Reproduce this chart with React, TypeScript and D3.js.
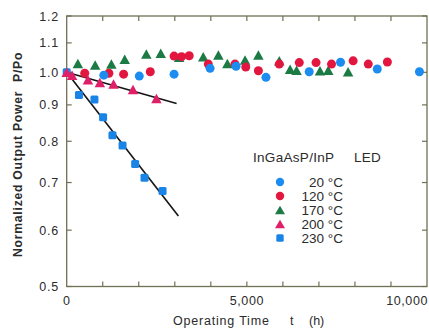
import React from "react";
import * as d3 from "d3";

// ---- data ----
const xTickValues = [0, 5000, 10000];
const xTickLabels = ["0", "5,000", "10,000"];
const xMinorTicks = [1000, 2000, 3000, 4000, 5000, 6000, 7000, 8000, 9000];
const yTickValues = [0.5, 0.6, 0.7, 0.8, 0.9, 1.0, 1.1, 1.2];
const yTickLabels = ["0.5", "0.6", "0.7", "0.8", "0.9", "1.0", "1.1", "1.2"];

const legendLabels = ["20 °C", "120 °C", "170 °C", "200 °C", "230 °C"];

const hours20 = [1030, 2015, 2980, 3980, 4700, 5530, 6730, 7600, 8620, 9790];
const ratio20 = [0.991, 0.988, 0.994, 1.013, 1.02, 0.984, 1.002, 1.033, 1.011, 1.002];

const hours120 = [500, 1170, 1580, 2320, 2980, 3190, 3400, 3930, 4670, 4970, 5320, 5900, 6455, 6920, 7350, 7950, 8370, 8900];
const ratio120 = [0.997, 0.997, 0.994, 1.002, 1.054, 1.052, 1.055, 1.027, 1.027, 1.017, 1.005, 1.027, 1.032, 1.032, 1.027, 1.038, 1.027, 1.034];

const hours170 = [310, 790, 1240, 1610, 2210, 2610, 3120, 3790, 4210, 4460, 4950, 5320, 5900, 6200, 6380, 7030, 7260, 7810];
const ratio170 = [1.029, 1.024, 1.027, 1.043, 1.061, 1.064, 1.05, 1.052, 1.058, 1.029, 1.041, 1.058, 1.038, 1.01, 1.007, 1.005, 1.007, 1.002];

const hours200 = [0, 150, 590, 920, 1300, 1840, 2490];
const ratio200 = [1.0, 0.991, 0.976, 0.968, 0.963, 0.946, 0.919];

const hours230 = [0, 340, 770, 1010, 1270, 1550, 1900, 2160, 2660];
const ratio230 = [1.0, 0.929, 0.916, 0.865, 0.816, 0.789, 0.743, 0.711, 0.681];

const fit200Hours = [0, 3050];
const fit200Ratio = [1.0, 0.904];
const fit230Hours = [0, 3100];
const fit230Ratio = [1.0, 0.628];

// ---- styles ----
const C20 = "#1d8cf0";
const C120 = "#e3163f";
const C170 = "#1c7a45";
const C200 = "#df2068";
const C230 = "#1a84e6";
const AXIS = "#707055";
const TXT = "#2b2b2b";
const FONT = "'Liberation Sans', Arial, sans-serif";

const W = 429;
const H = 328;
const L = 66.7;
const R = 427;
const T = 16;
const B = 286.5;

const x = d3.scaleLinear().domain([0, 10000]).range([L, R]);
const y = d3.scaleLog().domain([0.5, 1.2]).range([B, T]);

const pts = (hs: number[], rs: number[]) => hs.map((h, i) => [h, rs[i]] as [number, number]);

const tri = (cx: number, cy: number, w = 10, h = 9) =>
  `M${cx},${cy - h / 2}L${cx + w / 2},${cy + h / 2}L${cx - w / 2},${cy + h / 2}Z`;

export default function App() {
  const line = d3
    .line<[number, number]>()
    .x((d) => x(d[0]))
    .y((d) => y(d[1]));

  const circles = (data: [number, number][], color: string, key: string) =>
    data.map((d, i) => <circle key={key + i} cx={x(d[0])} cy={y(d[1])} r={4.5} fill={color} />);
  const triangles = (data: [number, number][], color: string, key: string) =>
    data.map((d, i) => <path key={key + i} d={tri(x(d[0]), y(d[1]), 10.5, 9.5)} fill={color} />);
  const squares = (data: [number, number][], color: string, key: string) =>
    data.map((d, i) => (
      <rect key={key + i} x={x(d[0]) - 4} y={y(d[1]) - 4} width={8} height={8} rx={1.5} fill={color} />
    ));

  const legendX = 280;
  const legendY0 = 182;
  const legendDy = 14;

  return (
    <svg
      width={W}
      height={H}
      style={{ position: "absolute", left: 0, top: 0, background: "#fff" }}
      fontFamily={FONT}
    >
      <rect x={0} y={0} width={W} height={H} fill="#fff" />

      {/* frame */}
      <rect x={L} y={T} width={R - L} height={B - T} fill="none" stroke={AXIS} strokeWidth={1.3} />

      {/* y ticks left and right */}
      {yTickValues.map((v, i) => (
        <g key={"yt" + i}>
          <line x1={L} x2={L + 5} y1={y(v)} y2={y(v)} stroke={AXIS} strokeWidth={1.2} />
          <line x1={R} x2={R - 5} y1={y(v)} y2={y(v)} stroke={AXIS} strokeWidth={1.2} />
          <text
            x={59}
            y={y(v) + 4.5}
            textAnchor="end"
            fontSize={12.5}
            letterSpacing={0.8}
            fill={TXT}
          >
            {yTickLabels[i]}
          </text>
        </g>
      ))}

      {/* x minor ticks top and bottom */}
      {xMinorTicks.map((v, i) => (
        <g key={"xt" + i}>
          <line x1={x(v)} x2={x(v)} y1={B} y2={B - 5} stroke={AXIS} strokeWidth={1.2} />
          <line x1={x(v)} x2={x(v)} y1={T} y2={T + 5} stroke={AXIS} strokeWidth={1.2} />
        </g>
      ))}
      {xTickValues.map((v, i) => (
        <text
          key={"xl" + i}
          x={i === xTickValues.length - 1 ? x(v) + 1 : x(v)}
          y={305}
          textAnchor={i === 0 ? "middle" : i === xTickValues.length - 1 ? "end" : "middle"}
          fontSize={12.5}
          letterSpacing={0.6}
          fill={TXT}
        >
          {xTickLabels[i]}
        </text>
      ))}

      {/* axis titles */}
      <text x={173} y={325} fontSize={12.5} letterSpacing={0.8} fill={TXT}>
        Operating Time
      </text>
      <text x={290} y={325} fontSize={12.5} fill={TXT}>
        t
      </text>
      <text x={309} y={325} fontSize={12.5} fill={TXT}>
        (h)
      </text>
      <g transform="translate(22,257) rotate(-90)">
        <text x={0} y={0} fontSize={12.2} fontWeight="bold" letterSpacing={0.75} fill={TXT}>
          Normalized Output Power
        </text>
        <text x={175} y={0} fontSize={12.2} fontWeight="bold" letterSpacing={0.75} fill={TXT}>
          P/Po
        </text>
      </g>

      {/* fit lines */}
      <path d={line(pts(fit230Hours, fit230Ratio)) || ""} stroke="#141414" strokeWidth={1.6} fill="none" />
      <path d={line(pts(fit200Hours, fit200Ratio)) || ""} stroke="#141414" strokeWidth={1.6} fill="none" />

      {/* points */}
      {squares(pts(hours230, ratio230), C230, "s230")}
      {triangles(pts(hours170, ratio170), C170, "t170")}
      {circles(pts(hours120, ratio120), C120, "c120")}
      {triangles(pts(hours200, ratio200), C200, "t200")}
      {circles(pts(hours20, ratio20), C20, "c20")}

      {/* legend */}
      <text x={253} y={162} fontSize={13.5} fill={TXT} letterSpacing={0.3}>
        InGaAsP/InP
      </text>
      <text x={354} y={162} fontSize={13.5} fill={TXT} letterSpacing={0.3}>
        LED
      </text>
      {legendLabels.map((lab, i) => {
        const cy = legendY0 + i * legendDy;
        const colors = [C20, C120, C170, C200, C230];
        let mark;
        if (i < 2) mark = <circle cx={legendX} cy={cy} r={4.2} fill={colors[i]} />;
        else if (i < 4) mark = <path d={tri(legendX, cy, 10, 8.5)} fill={colors[i]} />;
        else mark = <rect x={legendX - 3.7} y={cy - 3.7} width={7.4} height={7.4} rx={1.5} fill={colors[i]} />;
        return (
          <g key={"lg" + i}>
            {mark}
            <text x={343} y={cy + 5} textAnchor="end" fontSize={13.5} fill={TXT}>
              {lab}
            </text>
          </g>
        );
      })}
    </svg>
  );
}
